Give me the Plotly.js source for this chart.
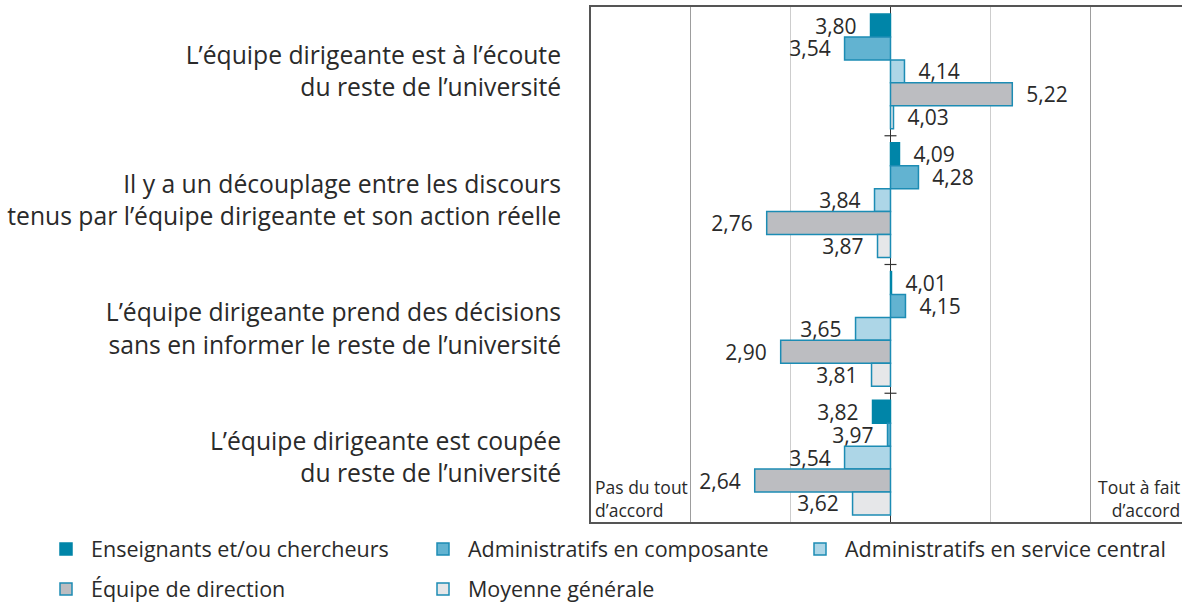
<!DOCTYPE html>
<html>
<head>
<meta charset="utf-8">
<script src="https://cdn.plot.ly/plotly-3.0.1.min.js"></script>
<style>
html,body{margin:0;padding:0;background:#fff;overflow:hidden;}
#chart{width:1182px;height:606px;}
</style>
</head>
<body>
<div id="chart"></div>
<script>
// Categories (top to bottom)
var categories = [
  "L\u2019équipe dirigeante est à l\u2019écoute<br>du reste de l\u2019université",
  "Il y a un découplage entre les discours<br>tenus par l\u2019équipe dirigeante et son action réelle",
  "L\u2019équipe dirigeante prend des décisions<br>sans en informer le reste de l\u2019université",
  "L\u2019équipe dirigeante est coupée<br>du reste de l\u2019université"
];
var seriesNames = [
  "Enseignants et/ou chercheurs",
  "Administratifs en composante",
  "Administratifs en service central",
  "Équipe de direction",
  "Moyenne générale"
];
var enseignants   = [3.80, 4.09, 4.01, 3.82];
var composante    = [3.54, 4.28, 4.15, 3.97];
var serviceCentral= [4.14, 3.84, 3.65, 3.54];
var direction     = [5.22, 2.76, 2.90, 2.64];
var moyenne       = [4.03, 3.87, 3.81, 3.62];
var midpoint = 4; // neutral point of the scale (1 = pas du tout d'accord, 7 = tout à fait d'accord)
var scaleMin = 1;
var scaleMaxVisible = 6.92;

var seriesValues = [enseignants, composante, serviceCentral, direction, moyenne];
var fills   = ["#0085a8", "#62b3d1", "#add6e7", "#bcbdc1", "#e6e7e9"];
var borders = ["#0085a8", "#1c8cb4", "#1c8cb4", "#1c8cb4", "#1c8cb4"];
var legendIds = ["legend", "legend", "legend", "legend2", "legend2"];

function fmt(v){ return v.toFixed(2).replace(".", ","); }
var pad = "\u00a0\u00a0";

var fontFam = "'Open Sans', Lato, sans-serif";

var traces = seriesValues.map(function(vals, i){
  return {
    type: "bar",
    orientation: "h",
    name: seriesNames[i],
    y: categories,
    x: vals.map(function(v){ return v - midpoint; }),
    text: vals.map(function(v){ return v < midpoint ? fmt(v) + pad : pad + fmt(v); }),
    textposition: "outside",
    constraintext: "none",
    cliponaxis: false,
    textfont: {family: fontFam, size: 21, color: "#2a2a2a"},
    marker: {color: fills[i], line: {color: borders[i], width: 1.5}},
    legend: legendIds[i],
    hoverinfo: "skip"
  };
});

// small cross ticks on the centre line, at the boundaries between categories
var shapes = [];
for (var k = 0; k < categories.length - 1; k++) {
  shapes.push({type: "line", xref: "x", yref: "y",
    x0: -0.06, x1: 0.06, y0: k + 0.5, y1: k + 0.5,
    line: {color: "#333", width: 1.2}});
}

var plotL = 591, plotW = 591, plotT = 7, plotH = 515;
function px2paperX(px){ return (px - plotL) / plotW; }
function px2paperY(py){ return (plotT + plotH - py) / plotH; }

var legendCommon = {
  orientation: "h", xref: "paper", yref: "paper",
  xanchor: "left", yanchor: "middle",
  itemwidth: 40,
  entrywidth: 322, entrywidthmode: "pixels",
  font: {family: fontFam, size: 21.5, color: "#2a2a2a"},
  bgcolor: "rgba(0,0,0,0)", traceorder: "normal"
};

var layout = {
  width: 1182, height: 606,
  margin: {l: 591, r: 0, t: 7, b: 84, pad: 0, autoexpand: false},
  paper_bgcolor: "#fff", plot_bgcolor: "#fff",
  font: {family: fontFam, size: 20, color: "#2a2a2a"},
  barmode: "group",
  bargap: 0.11,
  bargroupgap: 0,
  xaxis: {
    range: [scaleMin - midpoint, scaleMaxVisible - midpoint],
    showticklabels: false,
    ticks: "",
    tick0: 0, dtick: 2,
    showgrid: true, gridcolor: "#9d9d9d", gridwidth: 1,
    minor: {dtick: 1, tick0: 0, showgrid: true, gridcolor: "#cdcdcd", gridwidth: 1},
    zeroline: true, zerolinecolor: "#333", zerolinewidth: 1.5,
    showline: true, linecolor: "#555", linewidth: 2, mirror: true,
    fixedrange: true
  },
  yaxis: {
    autorange: "reversed",
    showgrid: false, zeroline: false,
    showline: true, linecolor: "#555", linewidth: 2,
    ticks: "",
    ticklabelstandoff: 23,
    tickfont: {family: fontFam, size: 24.7, color: "#2a2a2a"},
    fixedrange: true
  },
  shapes: shapes,
  annotations: [
    {xref: "paper", yref: "paper", x: 0, y: 0, xanchor: "left", yanchor: "bottom",
     xshift: 2, yshift: -2, align: "left", showarrow: false,
     text: "Pas du tout<br>d\u2019accord", font: {family: fontFam, size: 17.5, color: "#2a2a2a"}},
    {xref: "paper", yref: "paper", x: 1, y: 0, xanchor: "right", yanchor: "bottom",
     xshift: 0, yshift: -2, align: "right", showarrow: false,
     text: "Tout à fait<br>d\u2019accord", font: {family: fontFam, size: 17.5, color: "#2a2a2a"}}
  ],
  legend: Object.assign({}, legendCommon, {x: px2paperX(41), y: px2paperY(549)}),
  legend2: Object.assign({}, legendCommon, {x: px2paperX(41), y: px2paperY(589)}),
  showlegend: true
};

Plotly.newPlot("chart", traces, layout, {displayModeBar: false, staticPlot: true});
</script>
</body>
</html>
